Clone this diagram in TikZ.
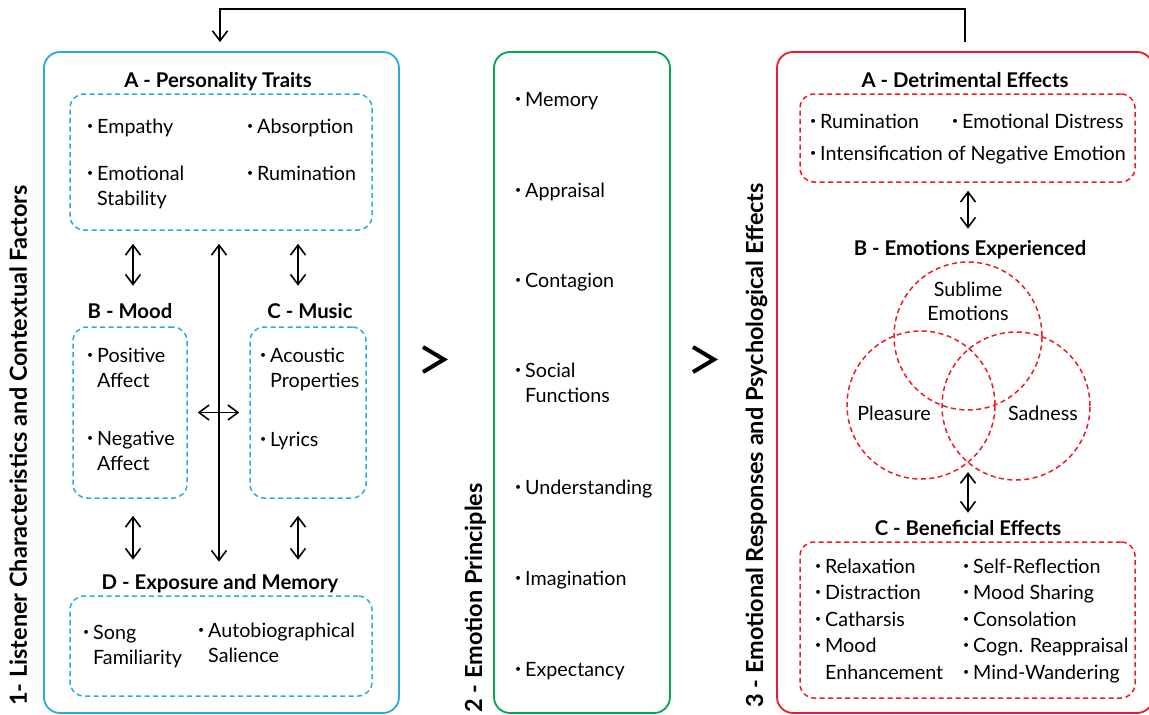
\documentclass[tikz,border=0pt]{standalone}
\usepackage{fontspec}
\setmainfont{Lato}
\usetikzlibrary{arrows.meta}

\definecolor{cyanline}{HTML}{29ABE2}
\definecolor{greenline}{HTML}{00A651}
\definecolor{redline}{HTML}{ED1C24}

% small bullet hung to the left of an item
\newcommand\bul{\llap{\raisebox{0.2em}{\fontsize{10.5}{10.5}\selectfont •}\hspace{4pt}}}

\tikzset{
  panel/.style={draw, line width=1.8pt, rounded corners=16pt, inner sep=0pt},
  group/.style={draw, dash pattern=on 5pt off 3.5pt, line width=1.5pt, rounded corners=14pt, inner sep=0pt},
  venn/.style={circle, draw=redline, dash pattern=on 5pt off 3.5pt, line width=1.5pt, minimum size=148pt, inner sep=0pt},
  head/.style={font=\fontsize{20.3}{24}\selectfont\bfseries, inner sep=0pt, anchor=base},
  item/.style={font=\fontsize{19.7}{25}\selectfont, align=left, inner sep=0pt, anchor=base west},
  plain/.style={font=\fontsize{19.7}{24}\selectfont, align=center, inner sep=0pt, anchor=base},
  vlabel/.style={font=\fontsize{23.5}{26}\selectfont\bfseries, rotate=90, inner sep=0pt, anchor=base east},
  barb/.tip={Straight Barb[length=10pt,width=15pt,line width=1.6pt]},
  link/.style={line width=1.6pt, barb-barb},
  feedback/.style={line width=1.3pt, -barb},
  chevron/.style={line width=4pt, line join=miter},
}

\begin{document}
\begin{tikzpicture}[x=1pt, y=-1pt]
\clip (0,0) rectangle (1149,715);
\fill[white] (0,0) rectangle (1149,715);

% ---------- three main panels ----------
\node[panel, draw=cyanline, minimum width=355pt, minimum height=661pt] (P1) at (221.5,382.5) {};
\node[panel, draw=greenline, minimum width=176pt, minimum height=661pt] (P2) at (582,382.5) {};
\node[panel, draw=redline, minimum width=376pt, minimum height=661pt] (P3) at (965,382.5) {};

\node[vlabel] (L1) at (27,185) {1- Listener Characteristics and Contextual Factors};
\node[vlabel] (L2) at (482,483) {2 - Emotion Principles};
\node[vlabel] (L3) at (763,183) {3 - Emotional Responses and Psychological Effects};

% feedback loop from panel 3 back to panel 1
\draw[feedback, shorten <=9pt, shorten >=9pt] (P3.north) -- ++(0,-42) -| ([xshift=-1.5pt]P1.north);

% flow markers between panels
\draw[chevron] (423,347) -- (444,359.5) -- (423,372);
\draw[chevron] (693,347) -- (714,359.5) -- (693,372);

% ---------- panel 1 ----------
\coordinate (colB) at (133,0);
\coordinate (colM) at (219,0);
\coordinate (colC) at (298,0);

\node[head] (hA) at (218,87) {A - Personality Traits};
\node[group, draw=cyanline, minimum width=302pt, minimum height=136pt] (A1) at (221,162) {};
\node[item] (a1) at (97,133) {\bul Empathy};
\node[item] (a2) at (257,133) {\bul Absorption};
\node[item] (a3) at (97,205) {\bul Emotional\\Stability};
\node[item] (a4) at (257,180) {\bul Rumination};

\node[head] (hB) at (130,318) {B - Mood};
\node[group, draw=cyanline, minimum width=114pt, minimum height=171pt] (B1) at (130,412.5) {};
\node[item] (b1) at (97,387) {\bul Positive\\Affect};
\node[item] (b2) at (97,470) {\bul Negative\\Affect};

\node[head] (hC) at (310,318) {C - Music};
\node[group, draw=cyanline, minimum width=116pt, minimum height=171pt] (C1) at (308,412.5) {};
\node[item] (c1) at (270,387) {\bul Acoustic\\Properties};
\node[item] (c2) at (270,446) {\bul Lyrics};

\node[head] (hD) at (220,589) {D - Exposure and Memory};
\node[group, draw=cyanline, minimum width=302pt, minimum height=100pt] (D1) at (221,646) {};
\node[item] (d1) at (93,664) {\bul Song\\Familiarity};
\node[item] (d2) at (208,662) {\bul Autobiographical\\Salience};

\draw[link, shorten <=13pt, shorten >=17pt] (A1.south -| colB) -- (hB.north -| colB);
\draw[link, shorten <=13pt, shorten >=17pt] (A1.south -| colC) -- (hC.north -| colC);
\draw[link, shorten <=13pt, shorten >=12pt] (A1.south -| colM) -- (hD.north -| colM);
\draw[link, shorten <=10pt, shorten >=10pt] (B1.east) -- (C1.west);
\draw[link, shorten <=17pt, shorten >=14pt] (B1.south -| colB) -- (hD.north -| colB);
\draw[link, shorten <=17pt, shorten >=14pt] (C1.south -| colC) -- (hD.north -| colC);

% ---------- panel 2 ----------
\node[item] (e1) at (525,106) {\bul Memory};
\node[item] (e2) at (525,197) {\bul Appraisal};
\node[item] (e3) at (525,287) {\bul Contagion};
\node[item] (e4) at (525,402) {\bul Social\\Functions};
\node[item] (e5) at (525,494) {\bul Understanding};
\node[item] (e6) at (525,585) {\bul Imagination};
\node[item] (e7) at (525,676) {\bul Expectancy};

% ---------- panel 3 ----------
\node[head] (rA) at (965,87) {A - Detrimental Effects};
\node[group, draw=redline, minimum width=335pt, minimum height=88pt] (RA) at (967.5,138) {};
\node[item] (r1) at (820,128) {\bul Rumination};
\node[item] (r2) at (962,128) {\bul Emotional Distress};
\node[item] (r3) at (820,160) {\bul Intensification of Negative Emotion};

\node[head] (rB) at (970,255) {B - Emotions Experienced};
\node[venn] (vS) at (968,336) {};
\node[venn] (vL) at (921,405) {};
\node[venn] (vR) at (1016,406) {};
\node[plain] (tS) at (968,320) {Sublime\\Emotions};
\node[plain] (tL) at (894,420) {Pleasure};
\node[plain] (tR) at (1043,420) {Sadness};
\coordinate (lowmeet) at (968,462);

\node[head] (rC) at (968,535) {C - Beneficial Effects};
\node[group, draw=redline, minimum width=335pt, minimum height=156pt] (RC) at (967.5,620) {};
\node[item, font=\fontsize{19.7}{26.6}\selectfont] (g1) at (825,679.4)
  {\bul Relaxation\\\bul Distraction\\\bul Catharsis\\\bul Mood\\Enhancement};
\node[item, font=\fontsize{19.7}{26.6}\selectfont] (g2) at (973,679.4)
  {\bul Self-Reflection\\\bul Mood Sharing\\\bul Consolation\\\bul Cogn. Reappraisal\\\bul Mind-Wandering};

\draw[link, shorten <=8pt, shorten >=11pt] (RA.south -| vS) -- (rB.north -| vS);
\draw[link, shorten <=10pt, shorten >=7pt] (lowmeet) -- (rC.north -| lowmeet);

\end{tikzpicture}
\end{document}
